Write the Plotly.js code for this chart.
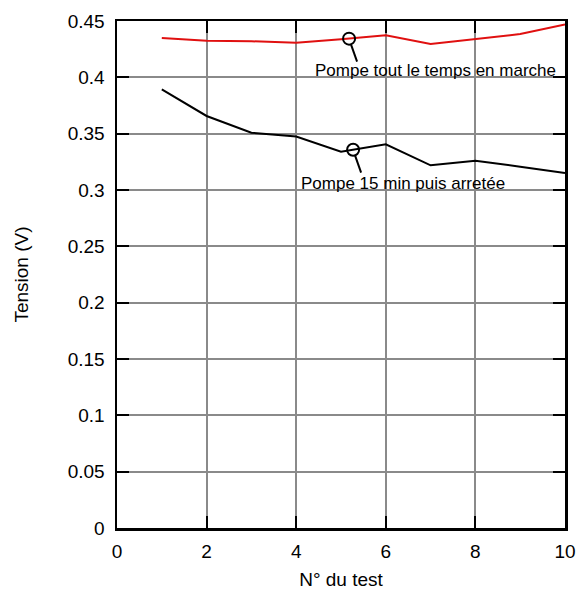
<!DOCTYPE html>
<html>
<head>
<meta charset="utf-8">
<script src="https://cdn.plot.ly/plotly-3.0.1.min.js"></script>
<style>html,body{margin:0;padding:0;background:#fff;}#chart{width:579px;height:599px;}</style>
</head>
<body>
<div id="chart"></div>
<script>
const testNumbers = [1, 2, 3, 4, 5, 6, 7, 8, 9, 10];
const pompeContinue = [0.435, 0.4325, 0.432, 0.4307, 0.4337, 0.4373, 0.4296, 0.4337, 0.4384, 0.447];
const pompe15min = [0.3894, 0.3657, 0.3509, 0.3474, 0.334, 0.3406, 0.3219, 0.326, 0.3207, 0.315];
const labelRed = "Pompe tout le temps en marche";
const labelBlack = "Pompe 15 min puis arretée";
const markRedX = 5.18, markBlackX = 5.27;

function interp(xs, ys, x) {
  for (let i = 0; i < xs.length - 1; i++) {
    if (x >= xs[i] && x <= xs[i + 1]) {
      const t = (x - xs[i]) / (xs[i + 1] - xs[i]);
      return ys[i] + t * (ys[i + 1] - ys[i]);
    }
  }
  return ys[ys.length - 1];
}
const redY = interp(testNumbers, pompeContinue, markRedX);
const blackY = interp(testNumbers, pompe15min, markBlackX);

const font = "Liberation Sans, Arial, sans-serif";

const traces = [
  {x: testNumbers, y: pompeContinue, type: 'scatter', mode: 'lines', line: {color: '#e01010', width: 2}, hoverinfo: 'skip'},
  {x: testNumbers, y: pompe15min, type: 'scatter', mode: 'lines', line: {color: '#000000', width: 2}, hoverinfo: 'skip'}
];

function marker(xa, ya) {
  return [
    {type: 'circle', xref: 'x', yref: 'y', xsizemode: 'pixel', ysizemode: 'pixel',
     xanchor: xa, yanchor: ya, x0: -6, x1: 6, y0: -6, y1: 6, line: {color: '#000', width: 2}},
    {type: 'line', xref: 'x', yref: 'y', xsizemode: 'pixel', ysizemode: 'pixel',
     xanchor: xa, yanchor: ya, x0: 2, x1: 8, y0: -6, y1: -23, line: {color: '#000', width: 2}}
  ];
}

const axisCommon = {
  showline: true, linecolor: '#000', linewidth: 2.5, mirror: 'allticks',
  ticks: 'inside', ticklen: 12, tickwidth: 2, tickcolor: '#000',
  showgrid: true, gridcolor: '#8a8a8a', gridwidth: 2, zeroline: false,
  tickfont: {family: font, size: 19, color: '#000'}
};

const layout = {
  width: 579, height: 599,
  margin: {l: 117, r: 14, t: 21, b: 71},
  paper_bgcolor: '#fff', plot_bgcolor: '#fff',
  showlegend: false,
  xaxis: Object.assign({}, axisCommon, {range: [0, 10], dtick: 2, tick0: 0,
    ticklabelstandoff: 5,
    title: {text: 'N° du test', font: {family: font, size: 19, color: '#000'}, standoff: 12}}),
  yaxis: Object.assign({}, axisCommon, {range: [0, 0.45], dtick: 0.05, tick0: 0,
    ticklabelstandoff: 6,
    title: {text: 'Tension (V)', font: {family: font, size: 19, color: '#000'}, standoff: 34}}),
  shapes: [].concat(marker(markRedX, redY), marker(markBlackX, blackY)),
  annotations: [
    {text: labelRed, x: 4.375, y: 0.4065, xref: 'x', yref: 'y', xanchor: 'left', yanchor: 'middle',
     showarrow: false, font: {family: font, size: 17, color: '#000'}},
    {text: labelBlack, x: 4.06, y: 0.3062, xref: 'x', yref: 'y', xanchor: 'left', yanchor: 'middle',
     showarrow: false, font: {family: font, size: 17, color: '#000'}}
  ]
};

Plotly.newPlot('chart', traces, layout, {staticPlot: true, displayModeBar: false});
</script>
</body>
</html>
